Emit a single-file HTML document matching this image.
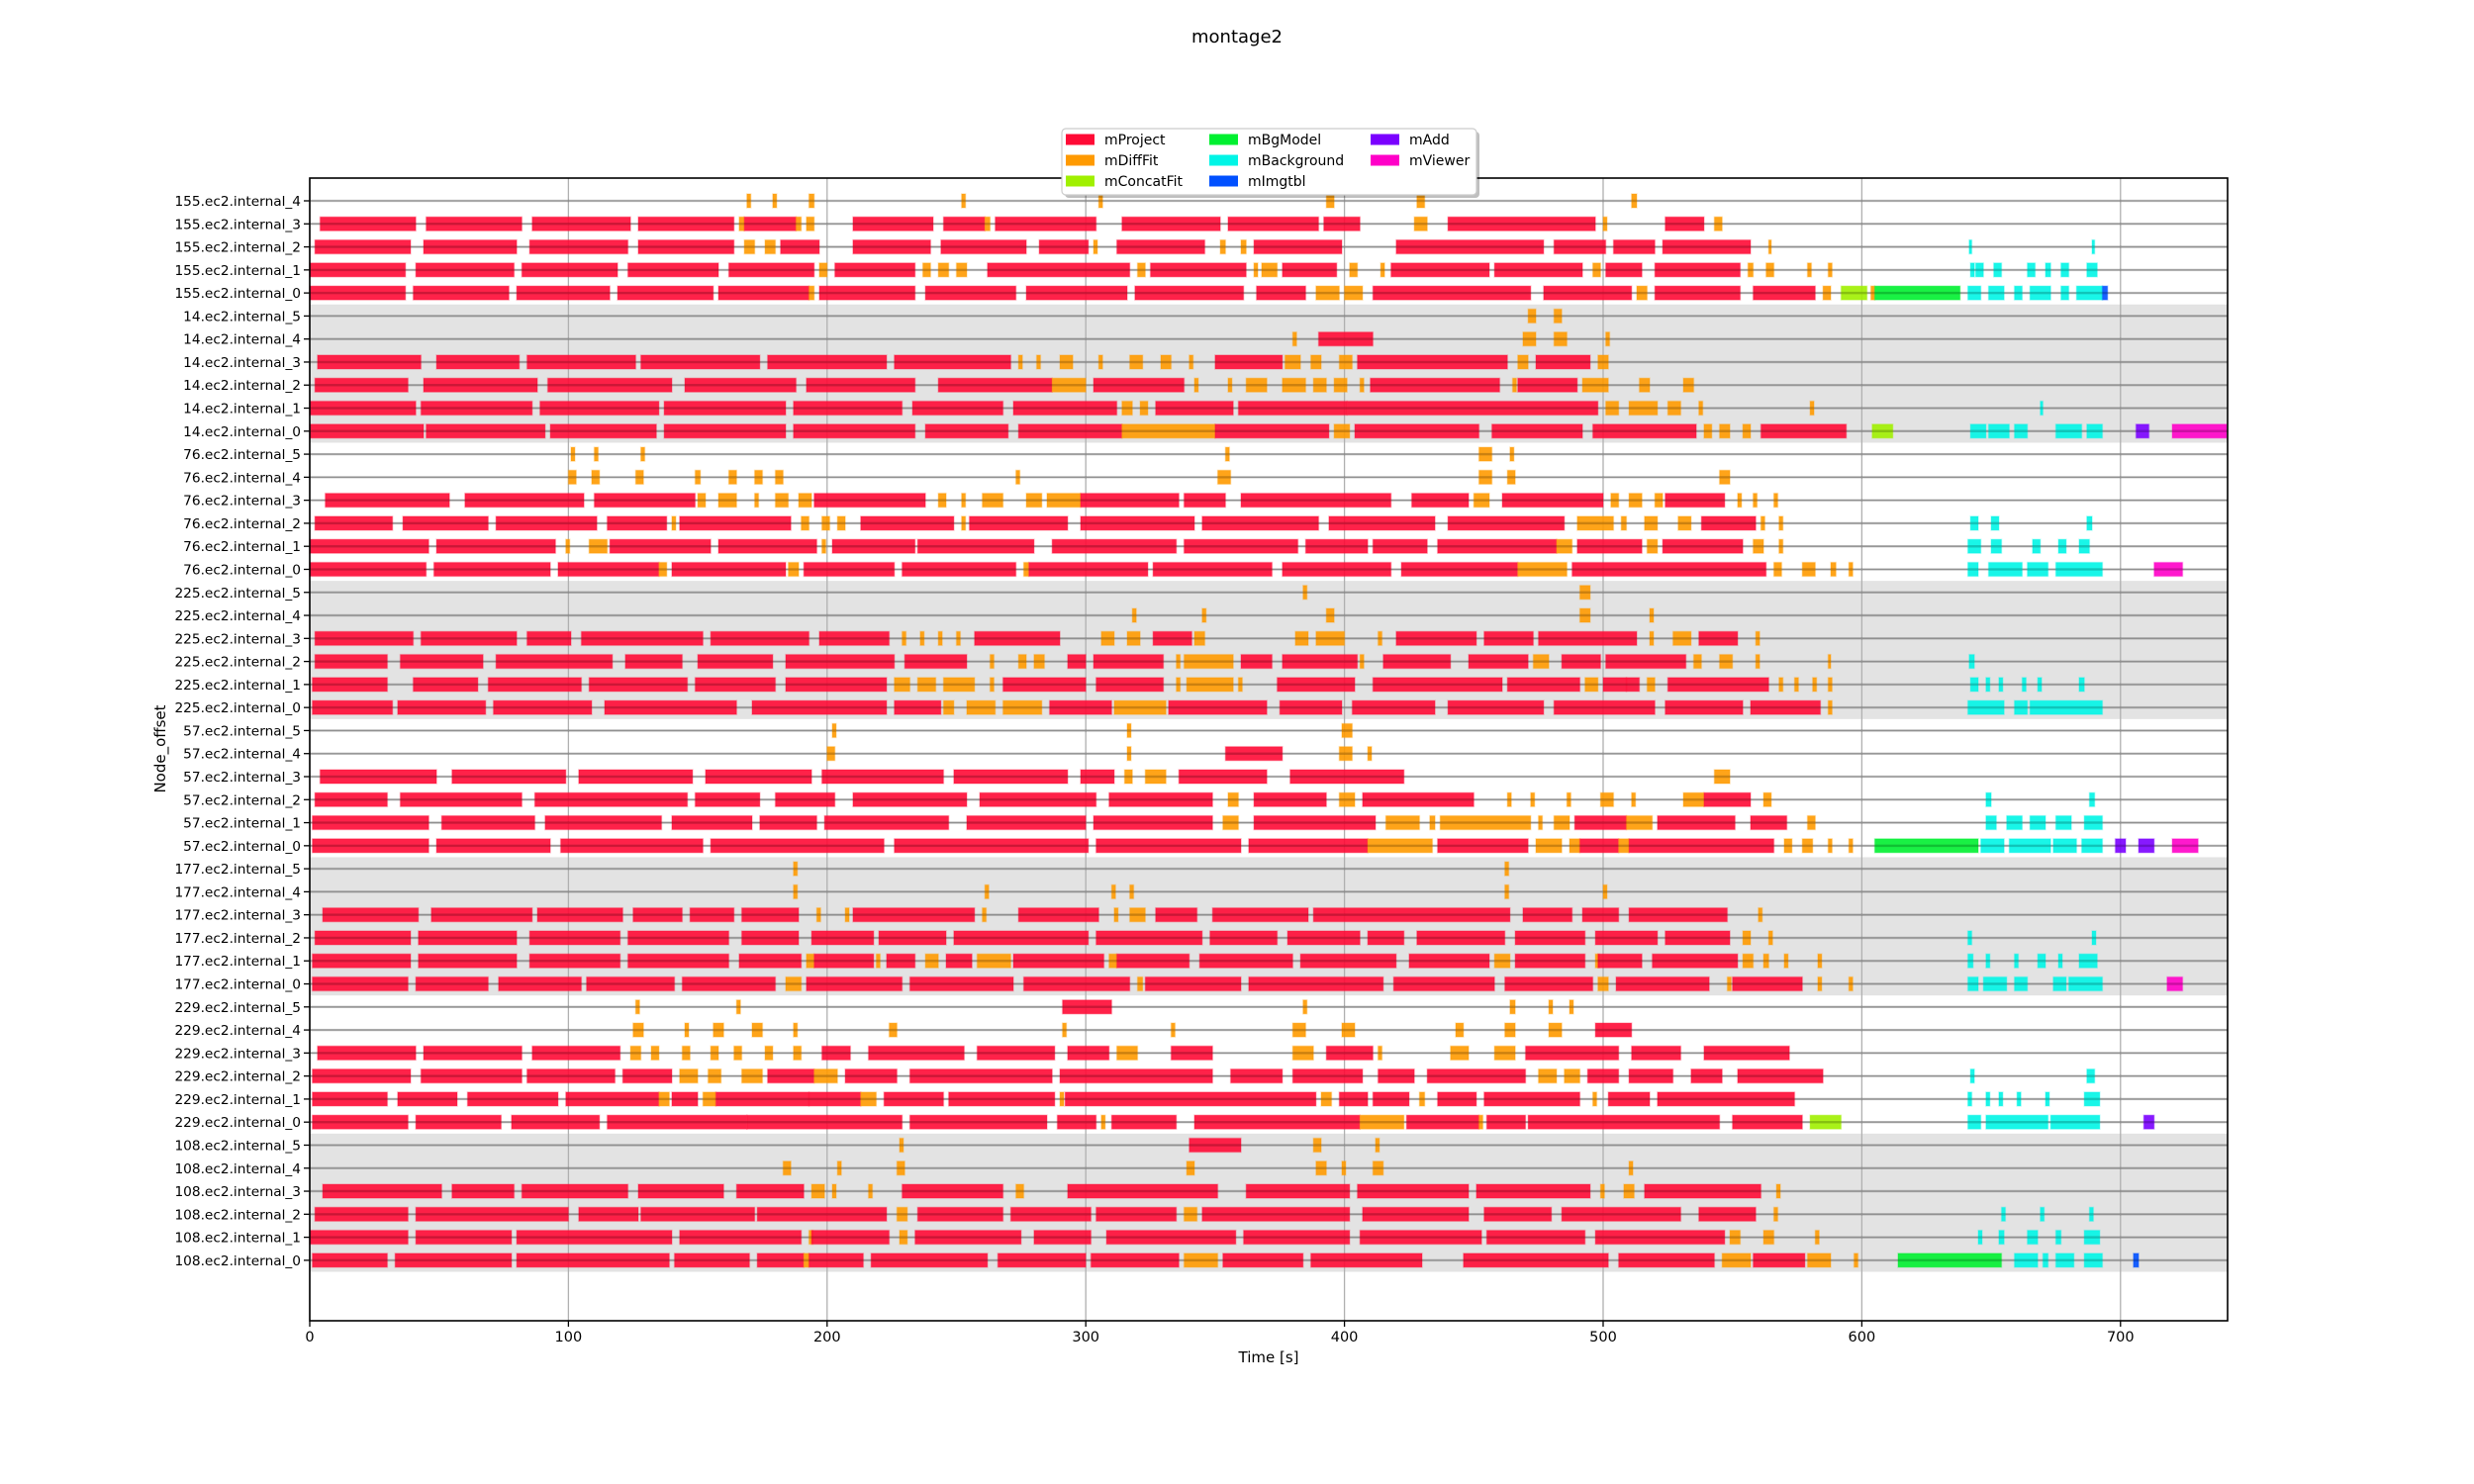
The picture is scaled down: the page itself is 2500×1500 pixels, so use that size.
<!DOCTYPE html>
<html><head><meta charset="utf-8"><style>
html,body{margin:0;padding:0;background:#fff;}
svg{display:block;font-family:"DejaVu Sans","Liberation Sans",sans-serif;}
</style></head><body>
<svg id="chart" width="2500" height="1500" viewBox="0 0 2500 1500" xmlns="http://www.w3.org/2000/svg">
<text x="1250" y="43" font-size="18" text-anchor="middle">montage2</text>
<g id="bands"></g><g id="grid"></g><g id="bars"></g><g id="axes"></g>
<text x="1282" y="1377" font-size="15" text-anchor="middle">Time [s]</text>
<text x="0" y="0" font-size="15" text-anchor="middle" transform="translate(167,757) rotate(-90)">Node_offset</text>
<g id="legend"></g>
</svg>
<script>
const rowLabels = ["155.ec2.internal_4","155.ec2.internal_3","155.ec2.internal_2","155.ec2.internal_1","155.ec2.internal_0",
"14.ec2.internal_5","14.ec2.internal_4","14.ec2.internal_3","14.ec2.internal_2","14.ec2.internal_1","14.ec2.internal_0",
"76.ec2.internal_5","76.ec2.internal_4","76.ec2.internal_3","76.ec2.internal_2","76.ec2.internal_1","76.ec2.internal_0",
"225.ec2.internal_5","225.ec2.internal_4","225.ec2.internal_3","225.ec2.internal_2","225.ec2.internal_1","225.ec2.internal_0",
"57.ec2.internal_5","57.ec2.internal_4","57.ec2.internal_3","57.ec2.internal_2","57.ec2.internal_1","57.ec2.internal_0",
"177.ec2.internal_5","177.ec2.internal_4","177.ec2.internal_3","177.ec2.internal_2","177.ec2.internal_1","177.ec2.internal_0",
"229.ec2.internal_5","229.ec2.internal_4","229.ec2.internal_3","229.ec2.internal_2","229.ec2.internal_1","229.ec2.internal_0",
"108.ec2.internal_5","108.ec2.internal_4","108.ec2.internal_3","108.ec2.internal_2","108.ec2.internal_1","108.ec2.internal_0"];
const shadedRows = [[5,10],[17,22],[29,34],[41,46]];
const xTicks = [0,100,200,300,400,500,600,700];
const taskNames = ["mProject","mDiffFit","mConcatFit","mBgModel","mBackground","mImgtbl","mAdd","mViewer"];
const taskColors = ["#ff0a35","#ff9a00","#a0f000","#00f030","#00f5e6","#0050ff","#7a00ff","#ff00c8"];
// schedule: per row, [typeCode, start, end]; P=mProject D=mDiffFit C=mConcatFit B=mBgModel K=mBackground I=mImgtbl A=mAdd V=mViewer
const schedule = [
[["D",169,170.5],["D",179,180.5],["D",193,195],["D",252,253.5],["D",305,306.5],["D",393,396],["D",428,431],["D",511,513]],
[["P",4,41],["P",45,82],["P",86,124],["P",127,164],["D",166,168],["P",168,188],["D",188,190],["D",192,195],["P",210,241],["P",245,261],["D",261,263],["P",265,304],["P",314,352],["P",355,390],["P",392,406],["D",427,432],["P",440,497],["D",500,501.5],["P",524,539],["D",543,546]],
[["P",2,39],["P",44,80],["P",85,123],["P",127,164],["D",168,172],["D",176,180],["P",182,197],["P",210,240],["P",244,277],["P",282,301],["D",303,304.5],["P",312,346],["D",352,354],["D",360,362],["P",365,399],["P",420,477],["P",481,501],["P",504,520],["P",523,557],["D",564,565],["K",641.5,642.5],["K",689,690]],
[["P",0,37],["P",41,79],["P",82,119],["P",123,158],["P",162,195],["D",197,200],["P",203,234],["D",237,240],["D",243,247],["D",250,254],["P",262,317],["D",320,323],["P",325,362],["D",365,366.5],["D",368,374],["P",376,397],["D",402,405],["D",414,415.5],["P",418,456],["P",458,492],["D",496,499],["P",501,515],["P",520,553],["D",556,558],["D",563,566],["D",579,580.5],["D",587,588.5],["K",642,643.5],["K",644,647],["K",651,654],["K",664,667],["K",671,673],["K",677,680],["K",687,691]],
[["P",0,37],["P",40,77],["P",80,116],["P",119,156],["P",158,193],["D",193,195],["P",197,234],["P",238,273],["P",277,316],["P",319,361],["P",366,385],["D",389,398],["D",400,407],["P",411,472],["P",477,511],["D",513,517],["P",520,553],["P",558,582],["D",585,588],["C",592,602],["D",603.5,605],["B",605,638],["K",641,646],["K",649,655],["K",659,662],["K",665,673],["K",677,680],["K",683,693],["I",693,695]],
[["D",471,474],["D",481,484]],
[["D",380,381.5],["P",390,411],["D",469,474],["D",481,486],["D",501,502.5]],
[["P",3,43],["P",49,81],["P",84,126],["P",128,174],["P",177,223],["P",226,271],["D",274,275.5],["D",281,282.5],["D",290,295],["D",305,306.5],["D",317,322],["D",329,333],["D",340,341.5],["P",350,376],["D",377,383],["D",387,391],["D",398,403],["P",405,463],["D",467,471],["P",474,495],["D",498,502]],
[["P",2,38],["P",44,88],["P",92,140],["P",145,188],["P",192,234],["P",243,287],["D",287,300],["P",303,338],["D",342,343.5],["D",355,356.5],["D",362,370],["D",376,385],["D",388,393],["D",396,401],["D",406,407.5],["P",410,460],["D",465,466.5],["P",467,490],["D",492,502],["D",514,518],["D",531,535]],
[["P",0,41],["P",43,86],["P",89,135],["P",137,184],["P",187,229],["P",233,268],["P",272,312],["D",314,318],["D",321,324],["P",327,357],["P",359,401],["P",401,498],["D",501,506],["D",510,521],["D",525,530],["D",537,538.5],["D",580,581.5],["K",669,670]],
[["P",0,44],["P",45,91],["P",93,134],["P",137,184],["P",187,234],["P",238,270],["P",274,314],["D",314,350],["P",350,394],["D",396,402],["P",404,452],["P",457,492],["P",496,536],["D",539,542],["D",545,549],["D",554,557],["P",561,594],["C",604,612],["K",642,648],["K",649,657],["K",659,664],["K",675,685],["K",687,693],["A",706,711],["V",720,741]],
[["D",101,102.5],["D",110,111.5],["D",128,129.5],["D",354,355.5],["D",452,457],["D",464,465.5]],
[["D",100,103],["D",109,112],["D",126,129],["D",149,151],["D",162,165],["D",172,175],["D",180,183],["D",273,274.5],["D",351,356],["D",452,457],["D",463,466],["D",545,549]],
[["P",6,54],["P",60,106],["P",110,149],["D",150,153],["D",158,165],["D",172,173.5],["D",180,185],["D",189,194],["P",195,238],["D",243,246],["D",252,253.5],["D",260,268],["D",277,283],["D",285,298],["P",298,336],["P",338,354],["P",360,418],["P",426,448],["D",450,456],["P",461,500],["D",503,506],["D",510,515],["D",520,523],["P",524,547],["D",552,553.5],["D",558,559.5],["D",566,567.5]],
[["P",2,32],["P",36,69],["P",72,111],["P",115,138],["D",140,141.5],["P",143,186],["D",190,193],["D",198,201],["D",204,207],["P",213,249],["D",252,253.5],["P",255,293],["P",298,342],["P",345,390],["P",394,435],["P",440,485],["D",490,504],["D",507,509],["D",516,521],["D",529,534],["P",538,559],["D",561,562.5],["D",568,569.5],["K",642,645],["K",650,653],["K",687,689]],
[["P",0,46],["P",49,95],["D",99,100.5],["D",108,115],["P",116,155],["P",158,196],["D",198,199.5],["P",202,234],["P",235,280],["P",287,335],["P",338,382],["P",385,409],["P",411,432],["P",436,482],["D",482,488],["P",490,515],["D",517,521],["P",523,554],["D",558,562],["D",568,569.5],["K",641,646],["K",650,654],["K",666,669],["K",676,679],["K",684,688]],
[["P",0,45],["P",48,93],["P",96,135],["D",135,138],["P",140,184],["D",185,189],["P",191,226],["P",229,273],["D",276,278],["P",278,324],["P",326,372],["P",376,418],["P",422,467],["D",467,486],["P",488,563],["D",566,569],["D",577,582],["D",588,590],["D",595,596.5],["K",641,645],["K",649,662],["K",664,672],["K",675,693],["V",713,724]],
[["D",384,385.5],["D",491,495]],
[["D",318,319.5],["D",345,346.5],["D",393,396],["D",491,495],["D",518,519.5]],
[["P",2,40],["P",43,80],["P",84,101],["P",105,152],["P",155,193],["P",197,224],["D",229,230.5],["D",236,237.5],["D",243,244.5],["D",250,251.5],["P",257,290],["D",306,311],["D",316,321],["P",326,341],["D",342,346],["D",381,386],["D",389,400],["D",413,414.5],["P",420,451],["P",454,473],["P",475,513],["D",518,519.5],["D",527,534],["P",537,552],["D",559,560.5]],
[["P",2,30],["P",35,67],["P",72,117],["P",122,144],["P",150,179],["P",184,226],["P",230,254],["D",263,264.5],["D",274,277],["D",280,284],["P",293,300],["P",303,330],["D",335,336.5],["D",338,357],["P",360,372],["P",376,405],["D",406,407.5],["P",415,441],["P",448,471],["D",473,479],["P",484,499],["P",501,532],["D",535,538],["D",545,550],["D",559,560.5],["D",587,588],["K",641.5,643.5]],
[["P",1,30],["P",40,65],["P",69,105],["P",108,146],["P",149,180],["P",184,223],["D",226,232],["D",235,242],["D",245,257],["D",263,264.5],["P",268,300],["P",304,330],["D",335,336.5],["D",339,357],["D",359,360.5],["P",374,404],["P",411,461],["P",463,491],["D",493,498],["P",500,509],["P",509,514],["D",517,520],["P",525,564],["D",568,569.5],["D",574,575.5],["D",581,582.5],["D",587,588.5],["K",642,645],["K",648,649.5],["K",653,654.5],["K",662,663.5],["K",668,669.5],["K",684,686]],
[["P",1,32],["P",34,68],["P",71,109],["P",114,165],["P",171,223],["P",226,244],["D",245,249],["D",254,265],["D",268,283],["P",286,310],["D",311,331],["P",332,370],["P",375,399],["P",403,435],["P",440,477],["P",481,520],["P",524,554],["P",557,584],["D",587,588.5],["K",641,655],["K",659,664],["K",665,693]],
[["D",202,203.5],["D",316,317.5],["D",399,403]],
[["D",200,203],["D",316,317.5],["P",354,376],["D",398,403],["D",409,410.5]],
[["P",4,49],["P",55,99],["P",104,148],["P",153,194],["P",198,245],["P",249,293],["P",298,311],["D",315,318],["D",323,331],["P",336,370],["P",379,423],["D",543,549]],
[["P",2,30],["P",35,82],["P",87,146],["P",149,174],["P",180,203],["P",210,254],["P",259,304],["P",309,349],["D",355,359],["P",365,393],["D",398,404],["P",407,450],["D",463,464.5],["D",472,473.5],["D",486,487.5],["D",499,504],["D",511,512.5],["D",531,539],["P",539,557],["D",562,565],["K",648,650],["K",688,690]],
[["P",1,46],["P",51,87],["P",91,136],["P",140,171],["P",174,196],["P",199,247],["P",254,300],["P",303,349],["D",353,359],["P",365,412],["D",416,429],["D",433,435],["D",437,472],["D",475,476.5],["D",481,487],["P",489,509],["D",509,519],["P",521,551],["P",557,571],["D",579,582],["K",648,652],["K",656,662],["K",665,671],["K",675,681],["K",686,693]],
[["P",1,46],["P",49,93],["P",97,152],["P",155,222],["P",226,301],["P",304,360],["P",363,409],["D",409,434],["P",436,471],["D",474,484],["D",487,491],["P",491,506],["D",506,510],["P",510,566],["D",570,573],["D",577,581],["D",587,588.5],["D",595,596.5],["B",605,645],["K",646,655],["K",657,673],["K",674,683],["K",685,693],["A",698,702],["A",707,713],["V",720,730]],
[["D",187,188.5],["D",462,463.5]],
[["D",187,188.5],["D",261,262.5],["D",310,311.5],["D",317,318.5],["D",462,463.5],["D",500,501.5]],
[["P",5,42],["P",47,86],["P",88,121],["P",125,144],["P",147,164],["P",167,189],["D",196,197.5],["D",207,208.5],["P",210,257],["D",260,261.5],["P",274,305],["D",311,312.5],["D",317,323],["P",327,343],["P",349,386],["P",388,464],["P",469,488],["P",492,506],["P",510,548],["D",560,561.5]],
[["P",2,39],["P",42,80],["P",85,120],["P",123,162],["P",167,189],["P",194,218],["P",220,246],["P",249,301],["P",304,345],["P",348,374],["P",378,406],["P",409,423],["P",428,462],["P",466,493],["P",497,521],["P",524,549],["D",554,557],["D",564,565.5],["K",641,642.5],["K",689,690.5]],
[["P",1,39],["P",42,80],["P",85,120],["P",123,162],["P",166,190],["D",192,195],["P",195,218],["D",219,220.5],["P",223,234],["D",238,243],["P",246,256],["D",258,271],["P",272,307],["D",309,312],["P",312,340],["P",344,380],["P",383,420],["P",425,456],["D",458,464],["P",466,493],["D",497,498.5],["P",498,515],["P",519,552],["D",554,558],["D",562,564],["D",570,571.5],["D",583,584.5],["K",641,643],["K",648,649.5],["K",659,660.5],["K",668,671],["K",676,677.5],["K",684,691]],
[["P",1,38],["P",41,69],["P",73,105],["P",107,141],["P",144,180],["D",184,190],["P",192,229],["P",232,272],["P",276,317],["D",320,322],["P",323,360],["P",363,415],["P",419,458],["P",462,496],["D",498,502],["P",505,541],["D",548,549.5],["P",550,577],["D",583,584.5],["D",595,596.5],["K",641,645],["K",647,656],["K",659,664],["K",674,679],["K",680,693],["V",718,724]],
[["D",126,127.5],["D",165,166.5],["P",291,310],["D",384,385.5],["D",464,466],["D",479,480.5],["D",487,488.5]],
[["D",125,129],["D",145,146.5],["D",156,160],["D",171,175],["D",187,188.5],["D",224,227],["D",291,292.5],["D",333,334.5],["D",380,385],["D",399,404],["D",443,446],["D",462,466],["D",479,484],["P",497,511]],
[["P",3,41],["P",44,82],["P",86,120],["D",124,128],["D",132,135],["D",144,147],["D",155,158],["D",164,167],["D",176,179],["D",187,190],["P",198,209],["P",216,253],["P",258,288],["P",293,309],["D",312,320],["P",333,349],["D",380,388],["P",393,411],["D",413,414.5],["D",441,448],["D",458,466],["P",470,506],["P",511,530],["P",539,572]],
[["P",1,39],["P",43,82],["P",84,118],["P",121,140],["D",143,150],["D",154,159],["D",167,175],["P",177,195],["D",195,204],["P",207,227],["P",232,287],["P",290,349],["P",356,376],["P",380,407],["P",413,427],["P",432,470],["D",475,482],["D",485,491],["P",494,506],["P",510,527],["P",534,546],["P",552,585],["K",642,643.5],["K",687,690]],
[["P",1,30],["P",34,57],["P",61,96],["P",99,135],["D",135,139],["P",140,150],["D",152,157],["P",157,193],["P",193,213],["D",213,219],["P",222,245],["P",247,288],["D",290,291.5],["P",292,389],["D",391,395],["P",398,409],["P",411,425],["D",429,431],["P",436,451],["P",454,491],["D",496,497.5],["P",502,518],["P",521,574],["K",641,642.5],["K",648,649.5],["K",653,654.5],["K",660,661.5],["K",671,672.5],["K",686,692]],
[["P",1,38],["P",41,74],["P",78,112],["P",115,169],["P",169,229],["P",232,285],["P",289,304],["D",306,307.5],["P",310,335],["P",342,406],["D",406,423],["P",424,452],["D",452,453.5],["P",455,470],["P",471,545],["P",550,577],["C",580,592],["K",641,646],["K",648,672],["K",673,692],["A",709,713]],
[["D",228,229.5],["P",340,360],["D",388,391],["D",412,413.5]],
[["D",183,186],["D",204,205.5],["D",227,230],["D",339,342],["D",389,393],["D",399,400.5],["D",411,415],["D",510,511.5]],
[["P",5,51],["P",55,79],["P",82,123],["P",127,160],["P",165,191],["D",194,199],["D",202,203.5],["D",216,217.5],["P",229,268],["D",273,276],["P",293,351],["P",362,402],["P",405,448],["P",451,495],["D",499,500.5],["D",508,512],["P",516,561],["D",567,568.5]],
[["P",2,38],["P",41,100],["P",104,127],["P",128,172],["P",173,223],["D",227,231],["P",235,268],["P",271,302],["P",304,335],["D",338,343],["P",345,402],["P",407,448],["P",454,480],["P",484,530],["P",537,559],["D",566,567.5],["K",654,655.5],["K",669,670.5],["K",688,689.5]],
[["P",0,38],["P",41,78],["P",80,140],["P",143,190],["D",193,194.5],["P",194,224],["D",228,231],["P",234,275],["P",280,302],["P",308,358],["P",361,402],["P",406,453],["P",455,493],["P",497,547],["D",549,553],["D",562,566],["D",582,583.5],["K",645,646.5],["K",653,655],["K",664,668],["K",675,677],["K",686,692]],
[["P",1,30],["P",33,78],["P",80,139],["P",141,170],["P",173,191],["D",191,193],["P",193,214],["P",217,262],["P",266,300],["P",302,336],["D",338,351],["P",353,384],["P",387,430],["P",446,502],["P",506,543],["D",546,557],["P",558,578],["D",579,588],["D",597,598.5],["B",614,654],["K",659,668],["K",670,672],["K",675,682],["K",686,693],["I",705,707]]
];
const codeIndex = {P:0,D:1,C:2,B:3,K:4,I:5,A:6,V:7};
const NS = "http://www.w3.org/2000/svg";
const X0 = 313, X1 = 2251, Y0 = 180, Y1 = 1335, XMAX = 741.4;
const ROW0 = 203, ROWSTEP = 23.28, BARH = 14;
function xScale(t){ return X0 + (t/XMAX)*(X1-X0); }
function yScale(i){ return ROW0 + i*ROWSTEP; }
function mk(tag, attrs, parent){ const e=document.createElementNS(NS,tag); for(const k in attrs) e.setAttribute(k,attrs[k]); parent.appendChild(e); return e; }
const bands=document.getElementById('bands'), grid=document.getElementById('grid'), bars=document.getElementById('bars'), axes=document.getElementById('axes'), legend=document.getElementById('legend');
shadedRows.forEach(function(r){
  const e=mk('rect',{x:X0,y:yScale(r[0])-ROWSTEP/2,width:X1-X0,height:(r[1]-r[0]+1)*ROWSTEP,fill:'#e3e3e3'},bands);
  
  
});
xTicks.forEach(function(t){
  const x=xScale(t);
  const g=mk('line',{x1:x,x2:x,y1:Y0,y2:Y1,stroke:'#b0b0b0','stroke-width':1.3},grid);
  
  
  const tk=mk('line',{x1:x,x2:x,y1:Y1,y2:Y1+6,stroke:'#000','stroke-width':1.3},axes);
  
  
  const tl=mk('text',{x:x,y:Y1+21,'font-size':14.5,'text-anchor':'middle'},axes);
  tl.textContent=String(t);
  
  
});
rowLabels.forEach(function(lab,i){
  const y=yScale(i);
  const g=mk('line',{x1:X0,x2:X1,y1:y,y2:y,stroke:'#b0b0b0','stroke-width':1.3},grid);
  
  
  const tk=mk('line',{x1:X0-6,x2:X0,y1:y,y2:y,stroke:'#000','stroke-width':1.3},axes);
  
  
  const tl=mk('text',{x:X0-9,y:y+5,'font-size':13.7,'text-anchor':'end'},axes);
  tl.textContent=lab;
  
  
});
schedule.forEach(function(row,i){
  row.forEach(function(s){
    const ti=codeIndex[s[0]];
    const x=xScale(s[1]), w=Math.max(2.5,xScale(s[2])-x);
    const r=mk('rect',{x:x,y:yScale(i)-BARH/2,width:w,height:BARH,fill:taskColors[ti],'fill-opacity':0.9,stroke:taskColors[ti],'stroke-opacity':0.25,'stroke-width':1.5},bars);
    
    
  });
  const c=mk('line',{x1:X0,x2:X1,y1:yScale(i),y2:yScale(i),stroke:'#000','stroke-opacity':0.18,'stroke-width':2.5},bars);
  
  
});
const frame=mk('rect',{x:X0,y:Y0,width:X1-X0,height:Y1-Y0,fill:'none',stroke:'#000','stroke-width':1.6},axes);


// legend
const ls=mk('rect',{x:1076,y:133,width:419,height:67,rx:4,fill:'#000','fill-opacity':0.25},legend);


const lb=mk('rect',{x:1073,y:130,width:419,height:67,rx:4,fill:'#fff',stroke:'#ccc','stroke-width':1.2},legend);


const colX=[1077,1222,1385], rowY=[141,162,183];
taskNames.forEach(function(n,k){
  const cx=colX[Math.floor(k/3)], cy=rowY[k%3];
  const p=mk('rect',{x:cx,y:cy-5.5,width:29,height:11,fill:taskColors[k]},legend);
  
  
  const t=mk('text',{x:cx+39,y:cy+5,'font-size':14},legend);
  t.textContent=n;
  
  
});
</script>
</body></html>
